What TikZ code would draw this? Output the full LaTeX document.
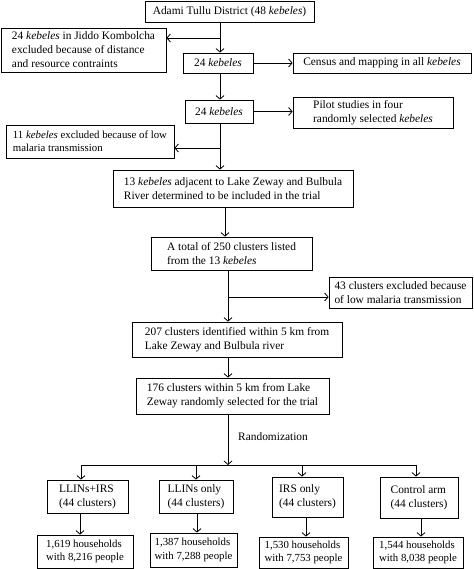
\documentclass[tikz,border=0pt]{standalone}
\usepackage{fontspec}
\setmainfont{Liberation Serif}
\usetikzlibrary{arrows.meta}
\begin{document}
\begin{tikzpicture}[x=1pt,y=-1pt,
  box/.style={draw,line width=0.8pt,align=left,inner sep=0pt,font=\fontsize{11.4}{14}\selectfont},
  small/.style={font=\fontsize{10.8}{13.5}\selectfont},
  arr/.style={line width=0.8pt,-{Straight Barb[length=3.5pt,width=8pt]}},
  ln/.style={line width=0.8pt}]
\useasboundingbox (0,0) rectangle (473,569);
\newcommand{\bx}[7][]{\node[box,#1,minimum width=#5-#3,minimum height=#6-#4] (#2) at ({(#3+#5)/2},{(#4+#6)/2}) {#7};}
\bx{top}{145}{1}{314}{22}{Adami Tullu District (48 \textit{kebeles})}
\bx{exa}{1}{28}{166}{72}{24 \textit{kebeles} in Jiddo Kombolcha\\excluded because of distance\\and resource contraints}
\bx{ka}{183}{53}{253}{73}{24 \textit{kebeles}}
\bx{census}{293}{53}{471}{73}{Census and mapping in all \textit{kebeles}}
\bx{kb}{185}{100}{253}{123}{24 \textit{kebeles}}
\bx{pilot}{293}{97}{453}{128}{Pilot studies in four\\randomly selected \textit{kebeles}}
\bx[small]{exb}{6}{125}{174}{158}{11 \textit{kebeles} excluded because of low\\malaria transmission}
\bx{k13}{113}{170}{353}{207}{13 \textit{kebeles} adjacent to Lake Zeway and Bulbula\\River determined to be included in the trial}
\bx{c250}{151}{237}{312}{270}{A total of 250 clusters listed\\from the 13 \textit{kebeles}}
\bx{exc}{329}{277}{472}{308}{43 clusters excluded because\\of low malaria transmission}
\bx{c207}{132}{322}{342}{357}{207 clusters identified within 5 km from\\Lake Zeway and Bulbula river}
\bx{c176}{136}{378}{329}{414}{176 clusters within 5 km from Lake\\Zeway randomly selected for the trial}
\bx{a1}{47}{480}{128}{513}{LLINs+IRS\\(44 clusters)}
\bx{a2}{159}{480}{233}{513}{LLINs only\\(44 clusters)}
\bx{a3}{272}{477}{343}{517}{IRS only\\(44 clusters)}
\bx{a4}{380}{477}{458}{518}{Control arm\\(44 clusters)}
\bx[small]{b1}{37}{535}{133}{568}{1,619 households\\with 8,216 people}
\bx[small]{b2}{150}{533}{237}{567}{1,387 households\\with 7,288 people}
\bx[small]{b3}{259}{537}{348}{568}{1,530 households\\with 7,753 people}
\bx[small]{b4}{373}{537}{463}{568}{1,544 households\\with 8,038 people}
\coordinate (t1) at (220,0);
\coordinate (j1) at (220,38);
\draw[arr] (top.south -| t1) -- (ka.north -| t1);
\draw[arr] (j1) -- (j1 -| exa.east);
\draw[arr] (ka.east) -- (ka.east -| census.west);
\draw[arr] (ka.south -| t1) -- (kb.north -| t1);
\draw[arr] (kb.east) -- (kb.east -| pilot.west);
\coordinate (j2) at (220,148);
\draw[arr] (kb.south -| t1) -- (k13.north -| t1);
\draw[arr] (j2) -- (j2 -| exb.east);
\coordinate (t2) at (225,0);
\draw[arr] (k13.south -| t2) -- (c250.north -| t2);
\coordinate (t3) at (228,0);
\coordinate (j3) at (228,297);
\draw[arr] (c250.south -| t3) -- (c207.north -| t3);
\draw[arr] (j3) -- (j3 -| exc.west);
\draw[arr] (c207.south -| t3) -- (c176.north -| t3);
\coordinate (j4) at (228,465);
\draw[arr] (c176.south -| t3) -- (j4);
\node[anchor=west,inner sep=0pt,font=\fontsize{11.4}{14}\selectfont] (rand) at (238,437) {Randomization};
\coordinate (h1) at (81,465);
\coordinate (h2) at (196,465);
\coordinate (h3) at (302,465);
\coordinate (h4) at (416,465);
\draw[ln] (h1) -- (h4);
\draw[arr] (h1) -- (h1 |- a1.north);
\draw[arr] (h2) -- (h2 |- a2.north);
\draw[arr] (h3) -- (h3 |- a3.north);
\draw[arr] (h4) -- (h4 |- a4.north);
\coordinate (v1) at (80,0);
\coordinate (v2) at (197,0);
\coordinate (v3) at (306,0);
\coordinate (v4) at (421,0);
\draw[arr] (a1.south -| v1) -- (b1.north -| v1);
\draw[arr] (a2.south -| v2) -- (b2.north -| v2);
\draw[arr] (a3.south -| v3) -- (b3.north -| v3);
\draw[arr] (a4.south -| v4) -- (b4.north -| v4);
\end{tikzpicture}
\end{document}
